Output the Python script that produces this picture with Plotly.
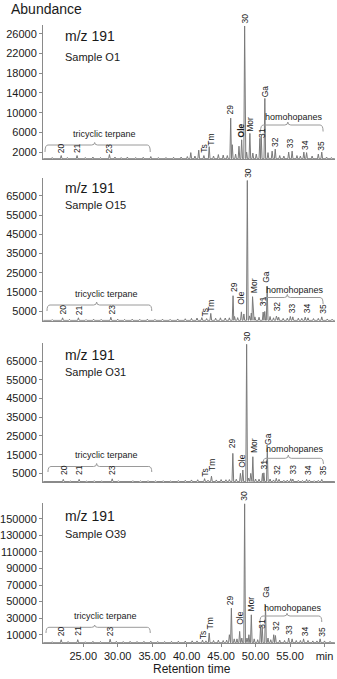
import plotly.graph_objects as go

# ---------------- data ----------------
samples = ["Sample O1", "Sample O15", "Sample O31", "Sample O39"]
ion_label = "m/z 191"

# retention time (min) and apex abundance of each peak, per sample
o1_t = [20.5, 21.8, 22.7, 24.1, 25.3, 26.4, 27.5, 28.8, 29.6, 30.5, 31.4, 32.6, 33.7, 34.8, 35.9,
        37.0, 38.1, 39.2, 40.1, 40.6, 41.2, 41.75, 42.5, 43.27, 43.9, 44.6, 45.3, 45.9, 46.39,
        46.62, 47.1, 47.59, 47.98, 48.41, 48.7, 49.17, 49.6, 50.1, 50.62, 50.82, 51.34, 51.8,
        52.4, 52.85, 53.5, 54.1, 54.8, 55.3, 56.0, 56.5, 57.0, 57.4, 58.2, 59.1, 59.6, 60.3, 61.0]
o1_h = [900, 1300, 900, 1300, 900, 1000, 900, 1500, 1000, 900, 1000, 900, 950, 1100, 900,
        900, 950, 1000, 1100, 1900, 1200, 2400, 1300, 3100, 1200, 1500, 1400, 1300, 8900,
        3500, 1600, 3200, 4500, 27600, 2000, 5800, 1800, 1600, 4800, 5200, 12900, 1900,
        2200, 2600, 1300, 1200, 2000, 2200, 1300, 1200, 2000, 1900, 1200, 1600, 2000, 1000, 900]

o15_t = [20.5, 22.0, 23.0, 24.3, 25.4, 26.5, 27.6, 29.0, 30.0, 31.0, 32.1, 33.2, 34.3, 35.4, 36.5,
         37.6, 38.7, 39.8, 40.7, 41.5, 42.2, 42.9, 43.5, 44.2, 44.9, 45.6, 46.2, 46.73, 46.95,
         47.4, 47.94, 48.3, 48.8, 49.1, 49.38, 49.56, 49.9, 50.5, 51.1, 51.33, 51.68, 52.1, 52.6,
         53.02, 53.35, 54.0, 54.6, 55.04, 55.4, 56.2, 56.7, 57.2, 57.6, 58.4, 59.1, 59.6, 60.4, 61.1]
o15_h = [600, 1500, 700, 1500, 600, 800, 700, 1800, 800, 700, 800, 700, 800, 700, 800,
         700, 900, 1000, 1200, 1400, 1600, 1100, 3800, 1300, 1500, 1400, 1500, 13000, 2200,
         1600, 4600, 3500, 73000, 2500, 4000, 12500, 2000, 1800, 4500, 4800, 17700, 2200, 1500,
         2400, 1800, 1200, 1300, 2200, 2000, 1300, 1200, 1900, 1500, 1100, 1200, 2000, 900, 800]

o31_t = [20.5, 22.1, 23.1, 24.4, 25.5, 26.6, 27.7, 29.2, 30.1, 31.1, 32.2, 33.3, 34.4, 35.5, 36.6,
         37.7, 38.8, 39.8, 40.7, 41.6, 42.6, 43.1, 43.6, 44.3, 45.0, 45.7, 46.2, 46.7, 47.2,
         47.8, 48.15, 48.7, 49.0, 49.3, 49.6, 50.0, 50.5, 51.0, 51.2, 51.7, 52.1, 52.6, 53.0,
         53.4, 54.1, 54.6, 55.1, 55.4, 56.2, 56.8, 57.4, 57.8, 58.5, 59.1, 59.6, 60.4, 61.1]
o31_h = [900, 1800, 1000, 1800, 900, 1100, 1000, 2100, 1100, 1000, 1100, 1000, 1100, 1000, 1100,
         1000, 1200, 1300, 1500, 1600, 2200, 1400, 3500, 1500, 1700, 1600, 1700, 15700, 1900,
         5000, 6800, 74000, 2500, 5000, 13900, 2000, 1900, 5000, 5300, 18400, 2000, 1500, 2400,
         1800, 1300, 1400, 2100, 2000, 1300, 1200, 1800, 1500, 1100, 1300, 1800, 1000, 900]

o39_t = [20.5, 21.8, 22.8, 24.2, 25.3, 26.4, 27.5, 28.9, 29.8, 30.8, 31.8, 32.8, 33.8, 34.8, 35.8,
         36.8, 37.8, 38.8, 39.8, 40.8, 41.5, 42.3, 42.8, 43.27, 43.9, 44.6, 45.3, 45.8, 46.2,
         46.49, 46.9, 47.3, 47.69, 48.0, 48.41, 48.75, 49.03, 49.38, 49.8, 50.3, 50.72, 50.96,
         51.44, 51.8, 52.2, 52.63, 52.88, 53.5, 54.2, 54.8, 55.3, 55.9, 56.5, 56.96, 57.6, 58.3,
         58.9, 59.36, 60.0, 60.8]
o39_h = [1500, 4000, 1800, 4000, 1500, 2000, 1800, 4500, 2000, 1800, 2000, 1800, 2000, 2200, 1800,
         1800, 2000, 2200, 2400, 2600, 2500, 3500, 2600, 12000, 3000, 3500, 3000, 3500, 10000,
         42000, 5000, 5000, 14000, 6000, 168000, 6000, 10000, 34000, 5000, 4000, 20000, 20000,
         46000, 6000, 4000, 10000, 9000, 3500, 3000, 6000, 5000, 3000, 3000, 5000, 3000, 2500,
         2500, 5000, 2500, 2000]

# peak labels and where each sits (time, abundance of label foot)
peak_labels = ["20", "21", "23", "Ts", "Tm", "29", "Ole", "30", "Mor", "31", "Ga", "32", "33", "34", "35"]
o1_lab_t = [21.8, 24.1, 28.8, 42.4, 43.6, 46.35, 47.9, 48.4, 49.25, 50.95, 51.35, 52.8, 55.0, 57.15, 59.45]
o1_lab_y = [1400, 1400, 1400, 1400, 3000, 9300, 4600, 27600, 5700, 4500, 12700, 2600, 2400, 2000, 1800]
o15_lab_t = [22.0, 24.3, 29.1, 42.6, 43.6, 46.9, 47.9, 48.8, 49.7, 51.2, 51.6, 53.1, 55.3, 57.4, 59.8]
o15_lab_y = [2000, 2000, 2000, 1200, 3800, 14000, 7300, 73500, 13300, 6400, 18500, 3800, 2900, 2600, 2600]
o31_lab_t = [22.1, 24.4, 29.2, 42.65, 43.75, 46.6, 48.0, 48.75, 49.7, 51.2, 51.7, 53.1, 55.4, 57.5, 59.7]
o31_lab_y = [3200, 3200, 3200, 2300, 5000, 17500, 6800, 74500, 14800, 5900, 19300, 3200, 3200, 3200, 3200]
o39_lab_t = [21.8, 24.2, 28.9, 42.3, 43.4, 46.4, 47.8, 48.4, 49.3, 50.8, 51.5, 52.9, 54.9, 57.2, 59.6]
o39_lab_y = [6000, 6000, 6000, 2000, 14000, 43000, 20000, 168800, 36000, 15000, 52000, 12000, 8000, 6000, 4800]

# axis ticks
x_tickvals = [25, 30, 35, 40, 45, 50, 55, 60]
x_ticktext = ["25.00", "30.00", "35.00", "40.00", "45.00", "50.00", "55.00", "min"]
y1_ticks = [2000, 6000, 10000, 14000, 18000, 22000, 26000]
y2_ticks = [5000, 15000, 25000, 35000, 45000, 55000, 65000]
y3_ticks = [5000, 15000, 25000, 35000, 45000, 55000, 65000]
y4_ticks = [10000, 30000, 50000, 70000, 90000, 110000, 130000, 150000]

# ---------------- layout helpers ----------------
W, H = 337, 679
ML, MR = 41, 2
PW = W - ML - MR
FONT = "Arial, Liberation Sans, sans-serif"
GRAY = "#8a8a8a"
TXT = "#1a1a1a"


def px_x(p):
    return (p - ML) / PW


def px_y(p):
    return 1 - p / H


panels = [
    dict(t=o1_t, h=o1_h, lt=o1_lab_t, ly=o1_lab_y, ticks=y1_ticks, rng=[600, 27800], base=650,
         top=25, bot=159, mz=36, smp=56.5,
         tri=(43, 149, 93, 145, 152, 142.5, 134), homo=(260, 323, 287.5, 125, 131.5, 122, 117)),
    dict(t=o15_t, h=o15_h, lt=o15_lab_t, ly=o15_lab_y, ticks=y2_ticks, rng=[0, 74300], base=150,
         top=178, bot=320.7, mz=188, smp=205,
         tri=(45, 150.5, 95, 305, 311, 302, 294), homo=(261.5, 323, 287, 297.5, 304, 294.5, 289.5)),
    dict(t=o31_t, h=o31_h, lt=o31_lab_t, ly=o31_lab_y, ticks=y3_ticks, rng=[400, 74700], base=600,
         top=343, bot=482, mz=355, smp=372,
         tri=(46, 150.5, 95, 466.5, 472, 463.5, 455.5), homo=(262.5, 323.3, 288, 458.3, 464, 455, 449)),
    dict(t=o39_t, h=o39_h, lt=o39_lab_t, ly=o39_lab_y, ticks=y4_ticks, rng=[0, 169000], base=300,
         top=503, bot=643, mz=516, smp=534,
         tri=(44, 149, 93, 627.3, 633, 625, 616), homo=(259.5, 321.7, 286.7, 616, 622, 613.3, 608.3)),
]

fig = go.Figure()
annotations = []
shapes = []
W_PEAK = 0.12

for i, p in enumerate(panels):
    n = i + 1
    xa = "x" if n == 1 else f"x{n}"
    ya = "y" if n == 1 else f"y{n}"
    base = p["base"]
    # chromatogram: each peak drawn as a narrow spike from the baseline
    xs, ys = [19.2], [base]
    ts, hs = p["t"], p["h"]
    for k, (t, h) in enumerate(zip(ts, hs)):
        left = t - W_PEAK if k == 0 else max(t - W_PEAK, (ts[k - 1] + t) / 2)
        right = t + W_PEAK if k == len(ts) - 1 else min(t + W_PEAK, (t + ts[k + 1]) / 2)
        xs += [left, t, right]
        ys += [base, h, base]
    xs.append(61.5)
    ys.append(base)
    fig.add_trace(go.Scatter(x=xs, y=ys, mode="lines", xaxis=xa, yaxis=ya,
                             line=dict(color="#7a7a7a", width=1), hoverinfo="skip",
                             showlegend=False))

    dom = [px_y(p["bot"]), px_y(p["top"])]
    xkey = "xaxis" if n == 1 else f"xaxis{n}"
    ykey = "yaxis" if n == 1 else f"yaxis{n}"
    xdef = dict(domain=[0, 1], anchor=ya, range=[19.16, 61.52], showline=True, linecolor=GRAY,
                linewidth=1, showgrid=False, zeroline=False, fixedrange=True)
    if n == 4:
        xdef.update(tickvals=x_tickvals, ticktext=x_ticktext, ticks="outside", ticklen=3,
                    tickcolor=GRAY, tickfont=dict(family=FONT, size=11, color=TXT))
    else:
        xdef.update(showticklabels=False, ticks="", matches="x4")
    ydef = dict(domain=dom, anchor=xa, range=p["rng"], showline=True, linecolor=GRAY, linewidth=1,
                showgrid=False, zeroline=False, tickvals=p["ticks"],
                ticktext=[str(v) for v in p["ticks"]], ticks="outside", ticklen=3,
                tickcolor=GRAY, tickfont=dict(family=FONT, size=11, color=TXT))
    fig.update_layout({xkey: xdef, ykey: ydef})

    # panel captions
    annotations.append(dict(text=ion_label, xref="paper", yref="paper", x=px_x(61), y=px_y(p["mz"]),
                            xanchor="left", yanchor="middle", showarrow=False,
                            font=dict(family=FONT, size=14, color=TXT)))
    annotations.append(dict(text=samples[i], xref="paper", yref="paper", x=px_x(61), y=px_y(p["smp"]),
                            xanchor="left", yanchor="middle", showarrow=False,
                            font=dict(family=FONT, size=11, color=TXT)))

    # peak labels
    for lab, lt, ly in zip(peak_labels, p["lt"], p["ly"]):
        txt = "<b>Ole</b>" if (lab == "Ole" and n == 1) else lab
        annotations.append(dict(text=txt, xref=xa, yref=ya, x=lt, y=ly, textangle=-90,
                                xanchor="center", yanchor="bottom", showarrow=False,
                                font=dict(family=FONT, size=8.5, color=TXT)))

    # braces with captions
    for (x0, x1, xm, yl, ye, yb, ytxt), cap in ((p["tri"], "tricyclic terpane"),
                                               (p["homo"], "homohopanes")):
        r = 3
        path = (f"M {px_x(x0)},{px_y(ye)} Q {px_x(x0)},{px_y(yl)} {px_x(x0 + r)},{px_y(yl)} "
                f"L {px_x(xm - r)},{px_y(yl)} Q {px_x(xm)},{px_y(yl)} {px_x(xm)},{px_y(yb)} "
                f"Q {px_x(xm)},{px_y(yl)} {px_x(xm + r)},{px_y(yl)} "
                f"L {px_x(x1 - r)},{px_y(yl)} Q {px_x(x1)},{px_y(yl)} {px_x(x1)},{px_y(ye)}")
        shapes.append(dict(type="path", xref="paper", yref="paper", path=path,
                           line=dict(color="#9a9a9a", width=1)))
        xc = (x0 + x1) / 2 + (2 if cap == "homohopanes" else 7)
        annotations.append(dict(text=cap, xref="paper", yref="paper", x=px_x(xc), y=px_y(ytxt),
                                xanchor="center", yanchor="middle", showarrow=False,
                                font=dict(family=FONT, size=9, color=TXT)))

annotations.append(dict(text="Abundance", xref="paper", yref="paper", x=px_x(7), y=px_y(9),
                        xanchor="left", yanchor="middle", showarrow=False,
                        font=dict(family=FONT, size=14, color=TXT)))
annotations.append(dict(text="Retention time", xref="paper", yref="paper", x=px_x(191),
                        y=px_y(669), xanchor="center", yanchor="middle", showarrow=False,
                        font=dict(family=FONT, size=12, color=TXT)))

fig.update_layout(width=W, height=H, margin=dict(l=ML, r=MR, t=0, b=0),
                  paper_bgcolor="white", plot_bgcolor="white", showlegend=False,
                  annotations=annotations, shapes=shapes, font=dict(family=FONT))

# the page's default 8px body margin is removed so the figure fills the window exactly
fig.write_html("out.html", config=dict(displayModeBar=False),
               post_script="document.body.style.margin='0';document.body.style.overflow='hidden';")
